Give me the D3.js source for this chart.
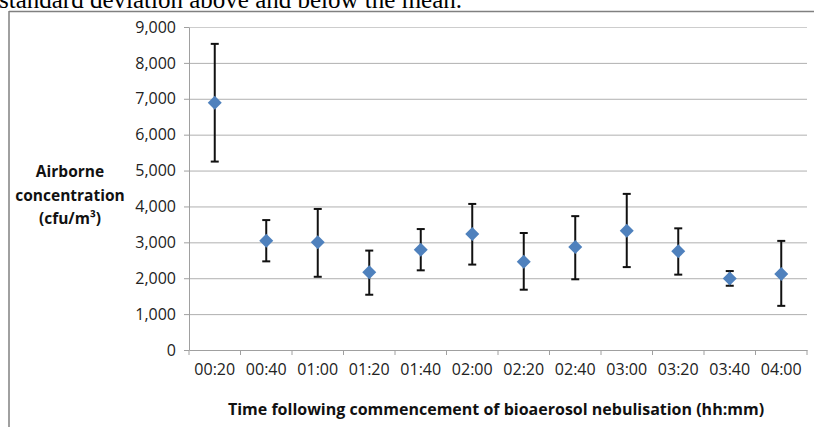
<html lang="en">
<head>
  <meta charset="UTF-8" />
  <title>Airborne concentration</title>
  <script src="https://d3js.org/d3.v7.min.js"></script>
  <style>
    body { margin: 0; background: #fff; }
    text { font-family: "Open Sans", sans-serif; }
    .gridlines .domain { display: none; }
    .gridlines line { stroke: #b0b0b0; }
    .axis path, .axis line { stroke: #a0a0a0; }
    .axis text { fill: #222; font-size: 16px; }
  </style>
</head>
<body>
  <svg id="chart" width="814" height="427"></svg>
  <script>
    // values (cfu/m3)
    const times = ["00:20", "00:40", "01:00", "01:20", "01:40", "02:00",
      "02:20", "02:40", "03:00", "03:20", "03:40", "04:00"];
    const means = [6890, 3045, 3000, 2165, 2795, 3230, 2460, 2870, 3325, 2750, 1990, 2120];
    const upper = [8530, 3620, 3930, 2770, 3370, 4070, 3260, 3730, 4350, 3390, 2200, 3040];
    const lower = [5250, 2470, 2040, 1540, 2220, 2380, 1680, 1970, 2310, 2100, 1790, 1230];
    const yTicks = [0, 1000, 2000, 3000, 4000, 5000, 6000, 7000, 8000, 9000];

    const svg = d3.select("svg#chart");
    const margin = { top: 27, left: 189, right: 7, bottom: 77 };
    const width = +svg.attr("width");
    const height = +svg.attr("height");
    const chartWidth = width - margin.left - margin.right;
    const chartHeight = height - margin.top - margin.bottom;

    // caption text cut off at the top (as in the source page)
    svg.append("text")
      .attr("x", -1)
      .attr("y", 7.5)
      .style("font-family", "'Liberation Serif', serif")
      .attr("font-size", 25)
      .attr("fill", "#000")
      .text("standard deviation above and below the mean.");

    // chart frame
    svg.append("line")
      .attr("x1", 9).attr("x2", width)
      .attr("y1", 11.5).attr("y2", 11.5)
      .attr("stroke", "#808080").attr("stroke-width", 1.5);
    svg.append("line")
      .attr("x1", 9).attr("x2", 9)
      .attr("y1", 11).attr("y2", height)
      .attr("stroke", "#808080").attr("stroke-width", 1.5);

    const data = times.map((t, i) => ({ time: t, mean: means[i], hi: upper[i], lo: lower[i] }));

    const x = d3.scaleBand().domain(times).range([0, chartWidth]);
    const y = d3.scaleLinear().domain([0, 9000]).range([chartHeight, 0]);

    const chart = svg.append("g")
      .attr("transform", `translate(${margin.left},${margin.top})`);

    chart.append("g")
      .attr("class", "gridlines")
      .call(d3.axisLeft(y).tickValues(yTicks.slice(1)).tickSize(-chartWidth).tickFormat(""))
      .selectAll("line")
      .style("stroke", (d) => d === 9000 ? "#cdcdcd" : "#b0b0b0");

    chart.append("g")
      .attr("class", "axis")
      .call(d3.axisLeft(y).tickValues(yTicks).tickSize(5).tickSizeOuter(0).tickPadding(8)
        .tickFormat(d3.format(",")));

    const xAxis = chart.append("g")
      .attr("class", "axis")
      .attr("transform", `translate(0,${chartHeight})`)
      .call(d3.axisBottom(x).tickSize(0).tickPadding(14));
    // ticks between categories
    xAxis.selectAll(".sep")
      .data(d3.range(times.length + 1))
      .join("line")
      .attr("class", "sep")
      .attr("x1", (i) => i * x.bandwidth())
      .attr("x2", (i) => i * x.bandwidth())
      .attr("y1", 0).attr("y2", 5)
      .attr("stroke", "#a0a0a0");

    // error bars
    const bars = chart.append("g").selectAll("g")
      .data(data)
      .join("g")
      .attr("transform", (d) => `translate(${x(d.time) + x.bandwidth() / 2},0)`);
    bars.append("line")
      .attr("y1", (d) => y(d.hi)).attr("y2", (d) => y(d.lo))
      .attr("stroke", "#111").attr("stroke-width", 2);
    bars.append("line")
      .attr("x1", -4).attr("x2", 4)
      .attr("y1", (d) => y(d.hi)).attr("y2", (d) => y(d.hi))
      .attr("stroke", "#111").attr("stroke-width", 2);
    bars.append("line")
      .attr("x1", -4).attr("x2", 4)
      .attr("y1", (d) => y(d.lo)).attr("y2", (d) => y(d.lo))
      .attr("stroke", "#111").attr("stroke-width", 2);

    // diamond markers
    bars.append("path")
      .attr("d", "M0,-7L7,0L0,7L-7,0Z")
      .attr("transform", (d) => `translate(0,${y(d.mean)})`)
      .attr("fill", "#4f81bd");

    // y label
    const yLab = svg.append("text")
      .attr("text-anchor", "middle")
      .attr("font-size", 15.5)
      .attr("font-weight", "bold")
      .attr("fill", "#111");
    yLab.append("tspan").attr("x", 70).attr("y", 177).text("Airborne");
    yLab.append("tspan").attr("x", 70).attr("y", 200.5).text("concentration");
    yLab.append("tspan").attr("x", 70).attr("y", 224).text("(cfu/m³)");

    // x label
    svg.append("text")
      .attr("text-anchor", "middle")
      .attr("x", 496)
      .attr("y", 415)
      .attr("font-size", 16)
      .attr("font-weight", "bold")
      .attr("fill", "#111")
      .text("Time following commencement of bioaerosol nebulisation (hh:mm)");
  </script>
</body>
</html>
